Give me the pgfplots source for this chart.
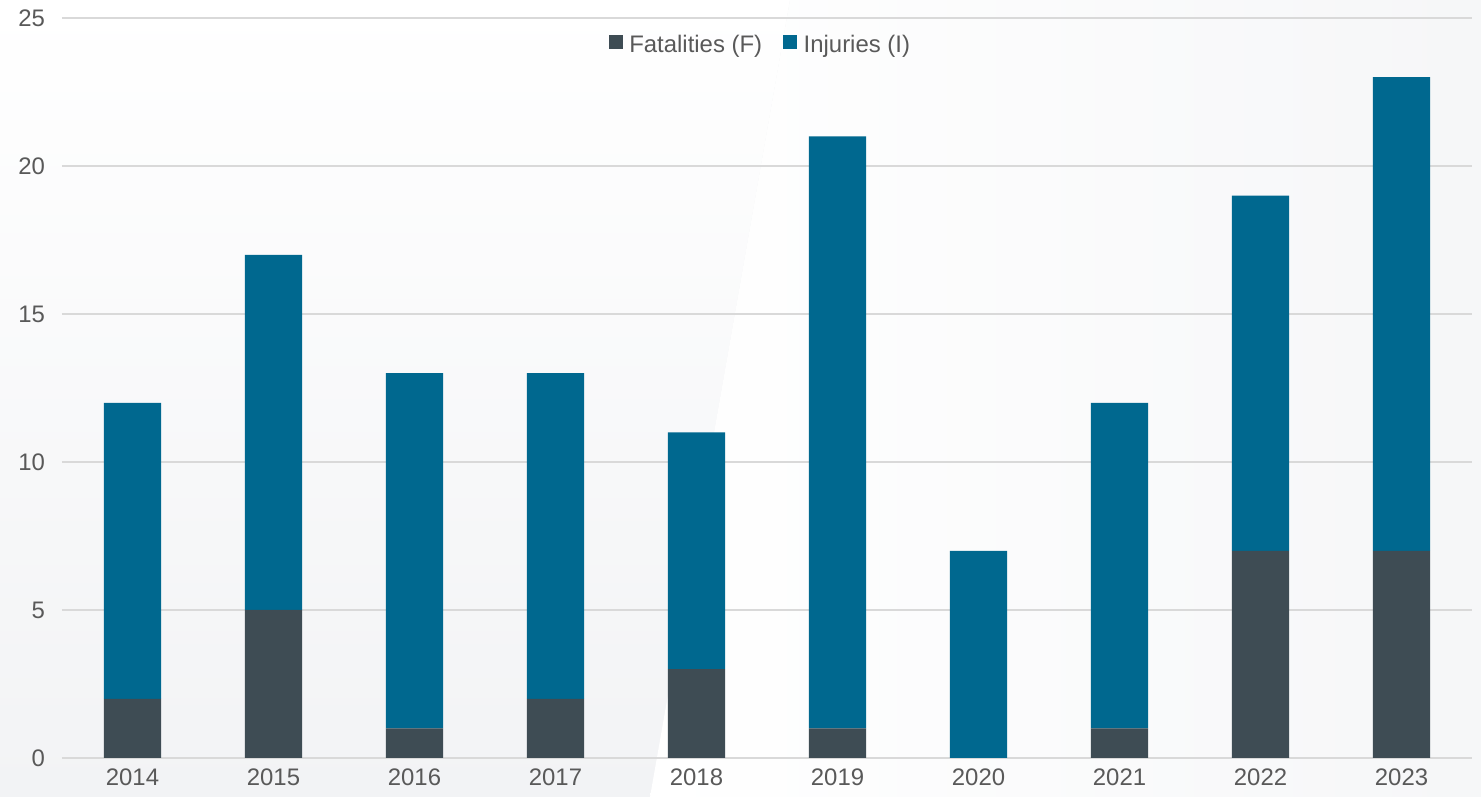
\documentclass[border=0pt]{standalone}
\usepackage{fontspec}
\setmainfont{Liberation Sans}
\usepackage{pgfplots}
\pgfplotsset{compat=1.18}
\definecolor{fatal}{HTML}{3E4C54}
\definecolor{injur}{HTML}{00688F}
\definecolor{txt}{HTML}{595959}
\definecolor{grd}{HTML}{D9D9D9}
\definecolor{bgl}{HTML}{F2F3F5}

% year index, fatalities, injuries
\pgfplotstableread{
x F I
0 2 10
1 5 12
2 1 12
3 2 11
4 3 8
5 1 20
6 0 7
7 1 11
8 7 12
9 7 16
}\incidents

\begin{document}
\begin{tikzpicture}
% soft background
\fill[bgl] (0,0) rectangle (740.5bp,398.5bp);
\shade[top color=white, bottom color=bgl] (0,0) -- (0,398.5bp) -- (395bp,398.5bp) -- (325bp,0) -- cycle;
\shade[left color=white, right color=bgl!70!white] (325bp,0) -- (395bp,398.5bp) -- (740.5bp,398.5bp) -- (740.5bp,0) -- cycle;
\path[use as bounding box] (0,0) rectangle (740.5bp,398.5bp);

\begin{axis}[
  at={(31bp,19.5bp)}, anchor=south west,
  scale only axis, width=705bp, height=370bp,
  ybar stacked, bar width=0.405,
  xmin=-0.5, xmax=9.5, ymin=0, ymax=25,
  xtick={0,...,9},
  xticklabels={2014,2015,2016,2017,2018,2019,2020,2021,2022,2023},
  ytick={0,5,...,25},
  axis line style={draw=none},
  major tick length=0,
  ymajorgrids, grid style={grd, line width=0.8bp},
  tick label style={font=\fontsize{12}{14}\selectfont, text=txt},
  /pgf/number format/assume math mode=true,
  yticklabel style={xshift=-5bp},
  xticklabel style={yshift=-2bp},
  legend style={at={(0.496,0.9635)}, anchor=center, draw=none, fill=none,
    font=\fontsize{12}{14}\selectfont, text=txt,
    /tikz/every even column/.append style={column sep=8.5bp},
    inner sep=0pt},
  legend columns=2,
  legend image code/.code={%
    \fill[#1] (0bp,-2.2bp) rectangle (7bp,4.8bp);
    \path (8.3bp,0);},
]
\addplot[fill=fatal, draw=none] table[x=x, y=F] {\incidents};
\addlegendentry{Fatalities (F)}
\addplot[fill=injur, draw=none] table[x=x, y=I] {\incidents};
\addlegendentry{Injuries (I)}
\end{axis}
\end{tikzpicture}
\end{document}
